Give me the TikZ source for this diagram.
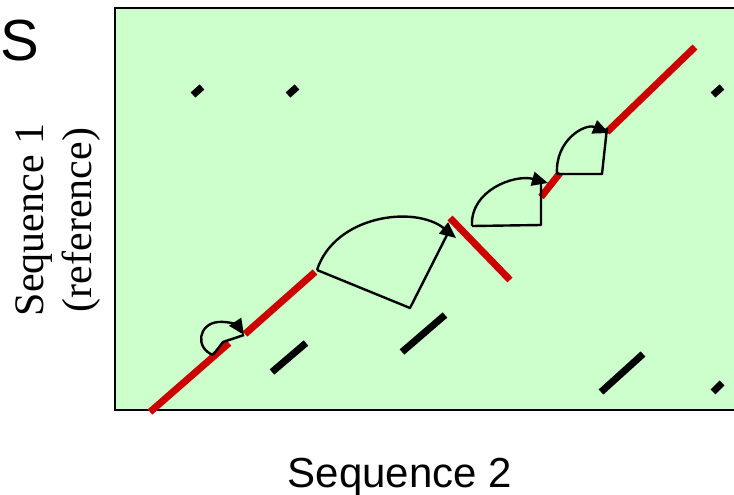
\documentclass[tikz,border=0pt]{standalone}
\usepackage{fontspec}
\setmainfont{Liberation Serif}
\setsansfont{Liberation Sans}
\usetikzlibrary{arrows.meta}
\definecolor{dotgreen}{HTML}{CCFFCC}
\definecolor{hitred}{HTML}{CC0000}

\begin{document}
\begin{tikzpicture}[
            x=1pt, y=-1pt,
            panel/.style={fill=dotgreen, draw=black, line width=2pt},
            hit/.style={draw=hitred, line width=7pt},
            noise/.style={draw=black, line width=7pt},
            jump/.style={draw=black, line width=2.4pt, line join=round},
            jumparc/.style={jump, -{Triangle[length=16pt,width=14pt]}},
            lab/.style={inner sep=0pt, font=\fontsize{42}{48}\selectfont}
        ]
\useasboundingbox (0,0) rectangle (734,495);

% --- dot plot panel ---
            \coordinate (pnw) at (115,8);
            \coordinate (pse) at (745,410);
            \path[panel] (pnw) rectangle (pse);

% --- random short matches ---
            \draw[noise] (193,95) -- (202,87);
            \draw[noise] (288,95) -- (297,87);
            \draw[noise] (713,95) -- (722,87);
            \draw[noise] (713,392) -- (722,383);
            \draw[noise] (272,372) -- (306,343);
            \draw[noise] (402,352) -- (445,315);
            \draw[noise] (601,392) -- (643,354);

% --- chained hits ---
            \draw[hit] (150,412) -- (229,343);
            \draw[hit] (245,334) -- (315,272);
            \draw[hit] (450,218) -- (510,280);
            \draw[hit] (541,197) -- (560,173);
            \draw[hit] (607,132) -- (695,47);

% --- small jump ---
            \coordinate (sa) at (213,355);
            \coordinate (sc) at (223,342);
            \coordinate (sb) at (244,335);
            \draw[jump] (sa) -- (sc) -- (sb);
            \draw[jumparc] (sa) .. controls (195,348) and (198,324) .. (218,322)
                .. controls (230,321) and (238,326) .. (sb);

% --- long jump ---
            \coordinate (ba) at (317,270);
            \coordinate (bc) at (410,308);
            \coordinate (bt) at (448,233);
            \coordinate (bb) at (456,238);
            \draw[jump] (ba) -- (bc) -- (bt);
            \draw[jumparc] (ba) .. controls (335,215) and (415,205) .. (bb);

% --- medium jump ---
            \coordinate (ma) at (472,226);
            \coordinate (mc) at (541,225);
            \coordinate (mt) at (541,180);
            \coordinate (mb) at (548,183);
            \draw[jump] (ma) -- (mc) -- (mt);
            \draw[jumparc] (ma) .. controls (470,190) and (515,174) .. (mb);

% --- upper jump ---
            \coordinate (ua) at (557,174);
            \coordinate (uc) at (602,174);
            \coordinate (ut) at (607,128);
            \coordinate (ub) at (609,133);
            \draw[jump] (ua) -- (uc) -- (ut);
            \draw[jumparc] (ua) .. controls (555,140) and (585,123) .. (ub);

% --- labels ---
            \node[lab, font=\sffamily\fontsize{58}{60}\selectfont, anchor=base west] (cut) at (0,61) {S};
            \node[lab, font=\sffamily\fontsize{42}{48}\selectfont, anchor=base] (xlab) at (400,487) {Sequence 2};
            \node[lab, rotate=90, align=center] (ylab) at (58,220) {Sequence 1\\(reference)};

\end{tikzpicture}
\end{document}
